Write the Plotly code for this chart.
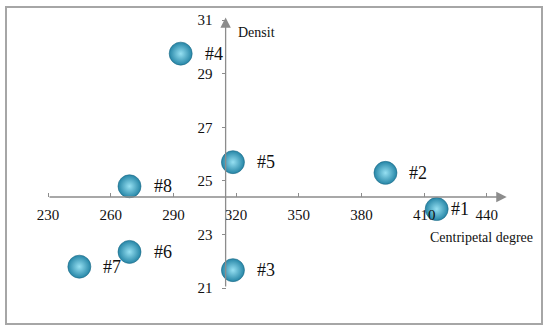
import plotly.graph_objects as go

# values
labels = ["#1", "#2", "#3", "#4", "#5", "#6", "#7", "#8"]
centripetal = [416, 391.5, 318.5, 293.5, 318.5, 269, 245, 269]
density = [23.95, 25.3, 21.67, 29.75, 25.7, 22.35, 21.8, 24.8]

x_ticks = [230, 260, 290, 320, 350, 380, 410, 440]
y_ticks = [21, 23, 25, 27, 29, 31]

x_cross = 315     # where the density axis sits
y_cross = 24.4    # where the centripetal axis sits

x_range = [209.9, 466.4]
y_range = [19.66, 31.49]

axis_grey = "#8c8c8c"
serif = "Liberation Serif, Times New Roman, serif"

fig = go.Figure()
fig.add_trace(
    go.Scatter(
        x=centripetal,
        y=density,
        mode="markers",
        marker=dict(
            size=23,
            color="#2585a6",
            gradient=dict(type="radial", color="#96e0f2"),
            line=dict(width=0.6, color="#1d6a86"),
        ),
        hoverinfo="skip",
    )
)

# point labels sit to the right of each ball
for lab, xv, yv in zip(labels, centripetal, density):
    fig.add_annotation(
        x=xv,
        y=yv,
        text=lab,
        showarrow=False,
        xanchor="left",
        yanchor="middle",
        xshift=12 if lab == "#1" else 22,
        font=dict(family=serif, size=18, color="#111111"),
    )

# axis lines with arrow heads
fig.add_annotation(
    x=449.5, y=y_cross, ax=x_ticks[0], ay=y_cross,
    xref="x", yref="y", axref="x", ayref="y",
    showarrow=True, arrowhead=2, arrowsize=1.6, arrowwidth=1.3,
    arrowcolor=axis_grey, text="",
)
fig.add_annotation(
    x=x_cross, y=31.1, ax=x_cross, ay=y_ticks[0],
    xref="x", yref="y", axref="x", ayref="y",
    showarrow=True, arrowhead=2, arrowsize=1.6, arrowwidth=1.3,
    arrowcolor=axis_grey, text="",
)

# axis titles
fig.add_annotation(
    x=x_cross, y=30.55, text="Densit", showarrow=False,
    xanchor="left", yanchor="middle", xshift=10,
    font=dict(family=serif, size=14, color="#111111"),
)
fig.add_annotation(
    x=412, y=22.87, text="Centripetal degree", showarrow=False,
    xanchor="left", yanchor="middle",
    font=dict(family=serif, size=14, color="#111111"),
)

# frame around the whole picture
fig.add_shape(
    type="rect", xref="paper", yref="paper", x0=0, y0=0, x1=1, y1=1,
    line=dict(color="#a6a6a6", width=2),
)

fig.update_layout(
    width=550,
    height=331,
    margin=dict(l=6, r=8, t=7, b=7),
    paper_bgcolor="white",
    plot_bgcolor="white",
    showlegend=False,
    xaxis=dict(
        range=x_range,
        tickvals=x_ticks,
        ticktext=[str(v) for v in x_ticks],
        showgrid=False,
        zeroline=False,
        showline=False,
        anchor="free",
        position=(y_cross - y_range[0]) / (y_range[1] - y_range[0]),
        ticks="inside",
        ticklen=4,
        tickcolor=axis_grey,
        ticklabelstandoff=7,
        tickfont=dict(family=serif, size=15, color="#111111"),
        fixedrange=True,
    ),
    yaxis=dict(
        range=y_range,
        tickvals=y_ticks,
        ticktext=[str(v) for v in y_ticks],
        showgrid=False,
        zeroline=False,
        showline=False,
        anchor="free",
        position=(x_cross - x_range[0]) / (x_range[1] - x_range[0]),
        ticks="outside",
        ticklen=4,
        tickcolor=axis_grey,
        ticklabelstandoff=6,
        tickfont=dict(family=serif, size=15, color="#111111"),
        fixedrange=True,
    ),
)

# drop the browser's default body margin so the figure sits at the corner
fig.write_html(
    "out.html",
    config={"displayModeBar": False},
    post_script="document.body.style.margin='0';",
)
